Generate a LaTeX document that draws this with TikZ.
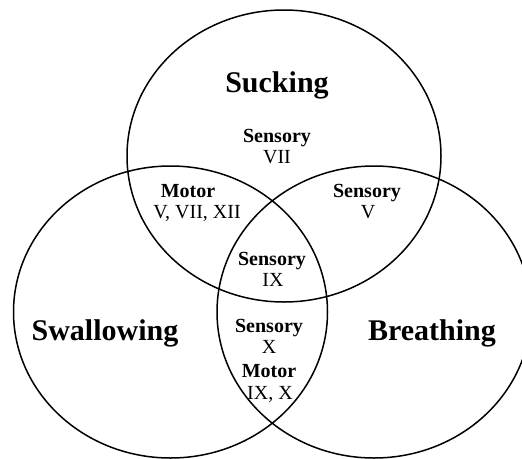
\documentclass[tikz,border=0pt]{standalone}
\usepackage{fontspec}
\setmainfont{Liberation Serif}
\begin{document}
\begin{tikzpicture}[x=1pt,y=-1pt,
  ring/.style={draw=black,line width=1.5pt},
  title/.style={font=\fontsize{30}{32}\selectfont\bfseries,anchor=base,inner sep=0pt},
  kind/.style={font=\fontsize{20}{22}\selectfont\bfseries,anchor=base,inner sep=0pt},
  nerve/.style={font=\fontsize{20}{22}\selectfont,anchor=base,inner sep=0pt}]
\useasboundingbox (0,0) rectangle (522,458);

% the three activity sets
\draw[ring] (284,156) ellipse [x radius=157pt, y radius=146pt];
\draw[ring] (170.5,312) ellipse [x radius=157pt, y radius=146pt];
\draw[ring] (374,312) ellipse [x radius=157pt, y radius=146pt];

% set titles
\node[title] (suck) at (277,92) {Sucking};
\node[title] (swal) at (105,340) {Swallowing};
\node[title] (brea) at (432,340) {Breathing};

% sucking only
\node[kind]  (s1) at (277,142) {Sensory};
\node[nerve] (n1) at (277,163) {VII};

% sucking and swallowing
\node[kind]  (m2) at (188,197) {Motor};
\node[nerve] (n2) at (197,218) {V, VII, XII};

% sucking and breathing
\node[kind]  (s3) at (367,197) {Sensory};
\node[nerve] (n3) at (368,218) {V};

% all three
\node[kind]  (s4) at (272,265) {Sensory};
\node[nerve] (n4) at (273,286) {IX};

% swallowing and breathing
\node[kind]  (s5) at (269,332) {Sensory};
\node[nerve] (n5) at (269,353) {X};
\node[kind]  (m5) at (269,377) {Motor};
\node[nerve] (n6) at (270,399) {IX, X};
\end{tikzpicture}
\end{document}
